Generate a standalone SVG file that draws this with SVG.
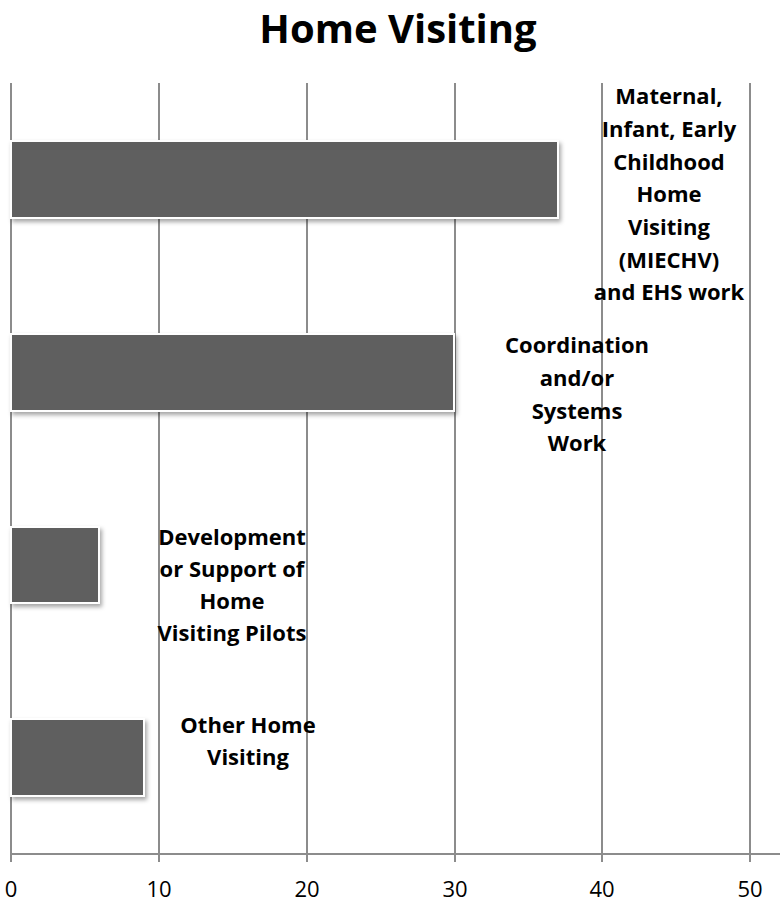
<svg xmlns="http://www.w3.org/2000/svg" width="780" height="905" viewBox="0 0 780 905">
<style>
.grid{stroke:#8c8c8c;stroke-width:2;fill:none}
.bar{fill:#5f5f5f;stroke:#ffffff;stroke-width:2;filter:url(#sh)}
.lbl{font-family:"Open Sans","Liberation Sans",sans-serif;font-weight:bold;font-size:22px;fill:#000;text-anchor:middle}
.tick{font-family:"Open Sans","Liberation Sans",sans-serif;font-size:22px;fill:#000;text-anchor:middle}
.title{font-family:"Open Sans","Liberation Sans",sans-serif;font-weight:bold;font-size:40px;fill:#000;text-anchor:middle}
</style>
<defs>
<filter id="sh" x="-5%" y="-10%" width="115%" height="130%">
<feDropShadow dx="2" dy="3" stdDeviation="2" flood-color="#000" flood-opacity="0.35"/>
</filter>
</defs>
<rect width="780" height="905" fill="#fff"/>
<text class="title" x="398" y="43">Home Visiting</text>
<g id="gridlines">
<line class="grid" x1="11" y1="83" x2="11" y2="862"/>
<line class="grid" x1="159" y1="83" x2="159" y2="862"/>
<line class="grid" x1="307" y1="83" x2="307" y2="862"/>
<line class="grid" x1="455" y1="83" x2="455" y2="862"/>
<line class="grid" x1="602" y1="83" x2="602" y2="862"/>
<line class="grid" x1="750" y1="83" x2="750" y2="862"/>
<line class="grid" x1="11" y1="854" x2="780" y2="854"/>
</g>
<g id="ticks">
<text class="tick" x="11" y="897">0</text>
<text class="tick" x="159" y="897">10</text>
<text class="tick" x="307" y="897">20</text>
<text class="tick" x="455" y="897">30</text>
<text class="tick" x="602" y="897">40</text>
<text class="tick" x="750" y="897">50</text>
</g>
<g id="bar-miechv">
<rect class="bar" x="11" y="141" width="547" height="77"/>
<text class="lbl" x="669"><tspan x="669" y="104">Maternal,</tspan><tspan x="669" y="137">Infant, Early</tspan><tspan x="669" y="170">Childhood</tspan><tspan x="669" y="202">Home</tspan><tspan x="669" y="235">Visiting</tspan><tspan x="669" y="268">(MIECHV)</tspan><tspan x="669" y="300">and EHS work</tspan></text>
</g>
<g id="bar-coordination">
<rect class="bar" x="11" y="334" width="443" height="77"/>
<text class="lbl" x="577"><tspan x="577" y="353">Coordination</tspan><tspan x="577" y="386">and/or</tspan><tspan x="577" y="419">Systems</tspan><tspan x="577" y="451">Work</tspan></text>
</g>
<g id="bar-pilots">
<rect class="bar" x="11" y="527" width="88" height="76"/>
<text class="lbl" x="232"><tspan x="232" y="545">Development</tspan><tspan x="232" y="577">or Support of</tspan><tspan x="232" y="609">Home</tspan><tspan x="232" y="641">Visiting Pilots</tspan></text>
</g>
<g id="bar-other">
<rect class="bar" x="11" y="719" width="133" height="77"/>
<text class="lbl" x="248"><tspan x="248" y="733">Other Home</tspan><tspan x="248" y="765">Visiting</tspan></text>
</g>
</svg>
